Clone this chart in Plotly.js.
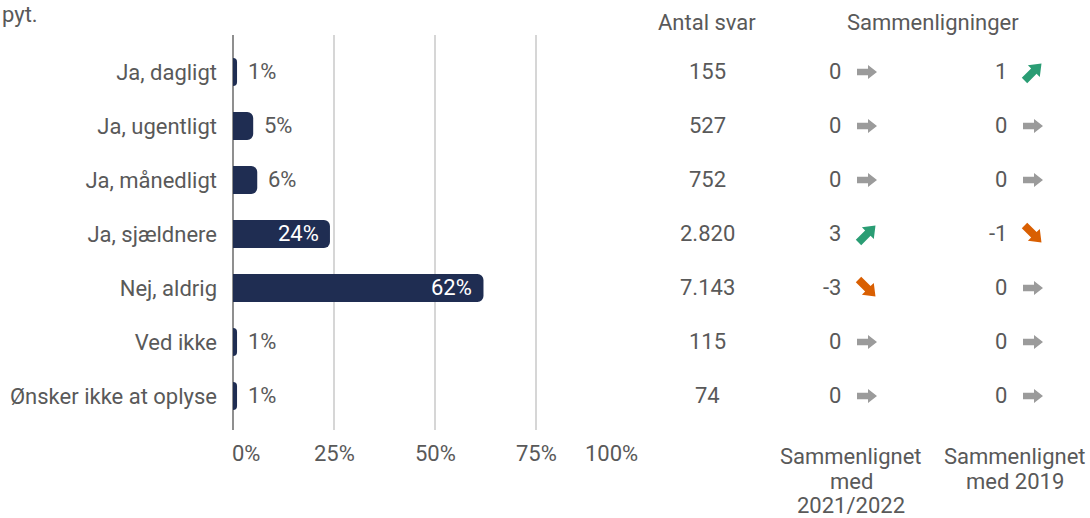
<!DOCTYPE html>
<html>
<head>
<meta charset="utf-8">
<script src="https://cdn.plot.ly/plotly-3.0.1.min.js"></script>
<style>html,body{margin:0;padding:0;background:#fff;}#chart{width:1090px;height:518px;}</style>
</head>
<body>
<div id="chart"></div>
<script>
const categories = ['Ja, dagligt', 'Ja, ugentligt', 'Ja, månedligt', 'Ja, sjældnere', 'Nej, aldrig', 'Ved ikke', 'Ønsker ikke at oplyse'];
const percent = [1, 5, 6, 24, 62, 1, 1];
const antalSvar = ['155', '527', '752', '2.820', '7.143', '115', '74'];
const comp2122 = [0, 0, 0, 3, -3, 0, 0];
const comp2019 = [1, 0, 0, -1, 0, 0, 0];
const xTickVals = [0, 25, 50, 75, 100];
const xTickText = ['0%', '25%', '50%', '75%', '100%'];
const headerAntal = 'Antal svar';
const headerComp = 'Sammenligninger';
const footComp1 = ['Sammenlignet', 'med', '2021/2022'];
const footComp2 = ['Sammenlignet', 'med 2019'];
const titleTail = 'pyt.';

const FONT = 'Roboto, "Noto Sans", sans-serif';
const FS = 22;
const GREY = '#595959';
const NAVY = '#1f2d52';

// geometry (pixels)
const L_MARGIN = 233, T_MARGIN = 35, B_MARGIN = 88, W = 1090, H = 518;
const PLOT_W = W - L_MARGIN, PLOT_H = H - T_MARGIN - B_MARGIN;
const BAR_RIGHT = 637;
const Y_RANGE = [6.63, -0.685];
const PX_PER_Y = PLOT_H / (Y_RANGE[0] - Y_RANGE[1]);
const paperY = px => (H - B_MARGIN - px) / PLOT_H;

// right-hand table columns on xaxis2 (pixel units)
const COL_ANTAL = 707;
const COL_C1_VAL = 843, COL_C1_ARR = 867;
const COL_C2_VAL = 1009, COL_C2_ARR = 1033;

const traces = [
  {
    type: 'bar', orientation: 'h',
    y: categories, x: percent,
    width: 0.52,
    marker: {color: NAVY, cornerradius: 6},
    hoverinfo: 'none',
    xaxis: 'x', yaxis: 'y'
  }
];

// block-arrow polygons (local px, y up), rotated by sign of change
const ARROW_SHAPE = [[-10, -3.2], [1, -3.2], [1, -7], [10, 0], [1, 7], [1, 3.2], [-10, 3.2], [-10, -3.2]];
function arrowTrace(cx, rowIdx, v) {
  let ang = 0, color = '#9b9b9b', scale = 1;
  if (v > 0) { ang = Math.PI / 4; color = '#2a9d74'; scale = 1.2; }
  else if (v < 0) { ang = -Math.PI / 4; color = '#d95f02'; scale = 1.2; }
  const c = Math.cos(ang), s = Math.sin(ang);
  const xs = [], ys = [];
  ARROW_SHAPE.forEach(([px, py]) => {
    const X = (px * c - py * s) * scale, Y = (px * s + py * c) * scale;
    xs.push(cx + X);
    ys.push(rowIdx - Y / PX_PER_Y);
  });
  return {
    type: 'scatter', mode: 'lines', x: xs, y: ys,
    fill: 'toself', fillcolor: color, line: {width: 0, color: color},
    hoverinfo: 'none', xaxis: 'x2', yaxis: 'y2'
  };
}
categories.forEach((c, i) => {
  traces.push(arrowTrace(COL_C1_ARR, i, comp2122[i]));
  traces.push(arrowTrace(COL_C2_ARR, i, comp2019[i]));
});

const annotations = [];
const font = (color) => ({family: FONT, size: FS, color: color || GREY});
const txt = (text, x, xref, pxY, xanchor, xshift) => ({
  text, x, y: paperY(pxY), xref, yref: 'paper', xanchor, yanchor: 'middle', showarrow: false,
  xshift: xshift || 0, font: font()
});
const cell = (text, x, xref, cat, xanchor, xshift, color) => ({
  text, x, y: cat, xref, yref: 'y', xanchor, yanchor: 'middle', showarrow: false,
  xshift: xshift || 0, font: font(color)
});

// bar value labels
categories.forEach((c, i) => {
  const v = percent[i];
  const inside = v >= 10;
  annotations.push(cell(v + '%', v, 'x', c, inside ? 'right' : 'left', inside ? -9 : 9, inside ? '#ffffff' : GREY));
});
// table cells
categories.forEach((c, i) => {
  annotations.push(cell(antalSvar[i], COL_ANTAL, 'x2', c, 'center', 0));
  annotations.push(cell(String(comp2122[i]), COL_C1_VAL, 'x2', c, 'right', 0));
  annotations.push(cell(String(comp2019[i]), COL_C2_VAL, 'x2', c, 'right', 0));
});
annotations.push(txt(headerAntal, COL_ANTAL, 'x2', 22, 'center'));
annotations.push(txt(headerComp, 933, 'x2', 22, 'center'));
footComp1.forEach((t, i) => annotations.push(txt(t, 851, 'x2', 457 + i * 24.5, 'center')));
footComp2.forEach((t, i) => annotations.push(txt(t, 1015, 'x2', 457 + i * 24.5, 'center')));
xTickVals.forEach((v, i) => {
  const last = xTickVals.length - 1;
  const anchor = i === 0 ? 'left' : (i === last ? 'right' : 'center');
  const shift = i === 0 ? -3 : (i === last ? 3 : 0);
  annotations.push(txt(xTickText[i], v, 'x', 453, anchor, shift));
});
annotations.push({
  text: titleTail, x: -L_MARGIN / PLOT_W, y: paperY(0), xref: 'paper', yref: 'paper',
  xanchor: 'left', yanchor: 'top', showarrow: false,
  font: font()
});

const layout = {
  width: W, height: H,
  margin: {l: L_MARGIN, r: 0, t: T_MARGIN, b: B_MARGIN, pad: 0},
  paper_bgcolor: '#ffffff', plot_bgcolor: '#ffffff',
  showlegend: false,
  font: font(),
  xaxis: {
    domain: [0, (BAR_RIGHT - L_MARGIN) / PLOT_W], range: [0, 100],
    tickvals: xTickVals, showticklabels: false,
    showgrid: true, gridcolor: '#d6d6d6', gridwidth: 1.5,
    zeroline: true, zerolinecolor: '#8f8f8f', zerolinewidth: 1.5,
    showline: false, ticks: '', fixedrange: true
  },
  xaxis2: {
    domain: [(BAR_RIGHT - L_MARGIN) / PLOT_W, 1], range: [BAR_RIGHT, W], anchor: 'y',
    visible: false, fixedrange: true
  },
  yaxis: {
    type: 'category', categoryarray: categories, categoryorder: 'array',
    range: Y_RANGE,
    showgrid: false, zeroline: false, showline: false, ticks: '',
    ticklabelstandoff: 15,
    tickfont: font(),
    fixedrange: true
  },
  yaxis2: {
    overlaying: 'y', range: Y_RANGE, visible: false, fixedrange: true, anchor: 'x2'
  },
  annotations
};

Plotly.newPlot('chart', traces, layout, {displayModeBar: false, staticPlot: true});
</script>
</body>
</html>
